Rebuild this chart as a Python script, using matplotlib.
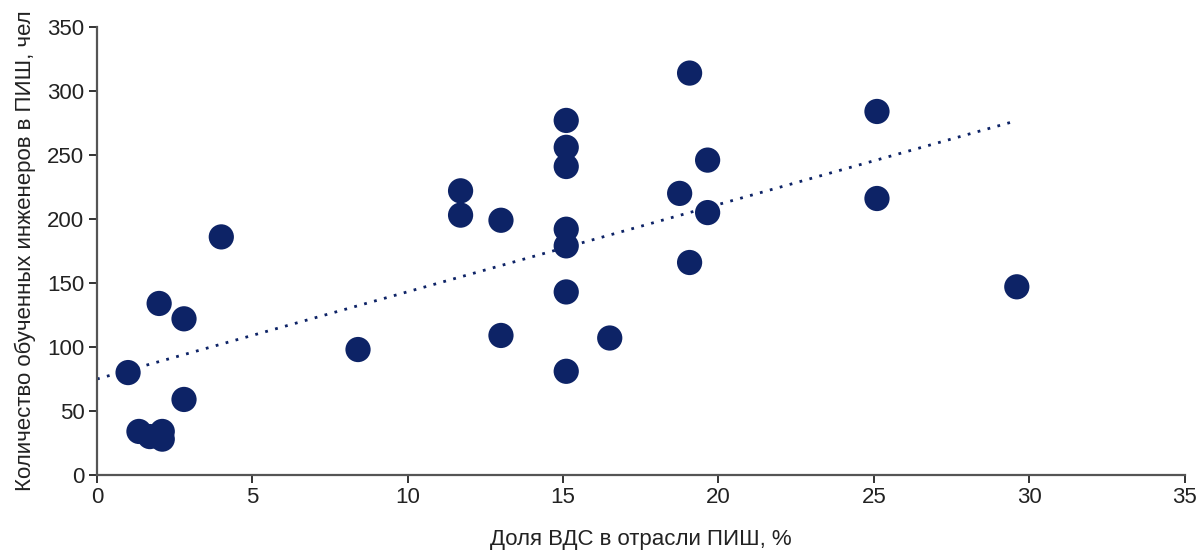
import numpy as np
import matplotlib
matplotlib.use("Agg")
import matplotlib.pyplot as plt

share_vds = [1.0, 1.35, 1.7, 2.1, 2.1, 2.0, 2.8, 2.8, 4.0, 8.4,
             11.7, 11.7, 13.0, 13.0,
             15.1, 15.1, 15.1, 15.1, 15.1, 15.1, 15.1,
             16.5, 18.75, 19.07, 19.07, 19.65, 19.65, 25.1, 25.1, 29.6]
engineers = [80, 34, 30, 34, 28, 134, 122, 59, 186, 98,
             222, 203, 199, 109,
             277, 256, 241, 192, 179, 143, 81,
             107, 220, 314, 166, 246, 205, 284, 216, 147]

x_ticks = [0, 5, 10, 15, 20, 25, 30, 35]
y_ticks = [0, 50, 100, 150, 200, 250, 300, 350]

navy = "#0d2366"
plt.rcParams['font.family'] = ['Liberation Sans', 'DejaVu Sans']

fig = plt.figure(figsize=(11.99, 5.51), dpi=100)
ax = fig.add_axes([0.0809, 0.138, 0.9071, 0.813])

ax.scatter(share_vds, engineers, s=330, color=navy, edgecolors='none', zorder=3)

slope, intercept = np.polyfit(share_vds, engineers, 1)
tx = np.array([0, max(share_vds)])
ax.plot(tx, intercept + slope * tx, linestyle=(0, (1, 2.7)), color=navy, linewidth=2.0, zorder=2)

ax.set_xlim(0, 35)
ax.set_ylim(0, 350)
ax.set_xticks(x_ticks)
ax.set_yticks(y_ticks)
for s in ['top', 'right']:
    ax.spines[s].set_visible(False)
for s in ['left', 'bottom']:
    ax.spines[s].set_color('#555555')
    ax.spines[s].set_linewidth(1.6)
ax.tick_params(axis='both', direction='out', length=6, width=1.4, color='#333333',
               labelsize=16, labelcolor='#222222', pad=3)
ax.set_xlabel('Доля ВДС в отрасли ПИШ, %', fontsize=16, color='#222222', labelpad=15)
ax.set_ylabel('Количество обученных инженеров в ПИШ, чел', fontsize=16, color='#222222', labelpad=8)

fig.savefig('out.png', dpi=100)
